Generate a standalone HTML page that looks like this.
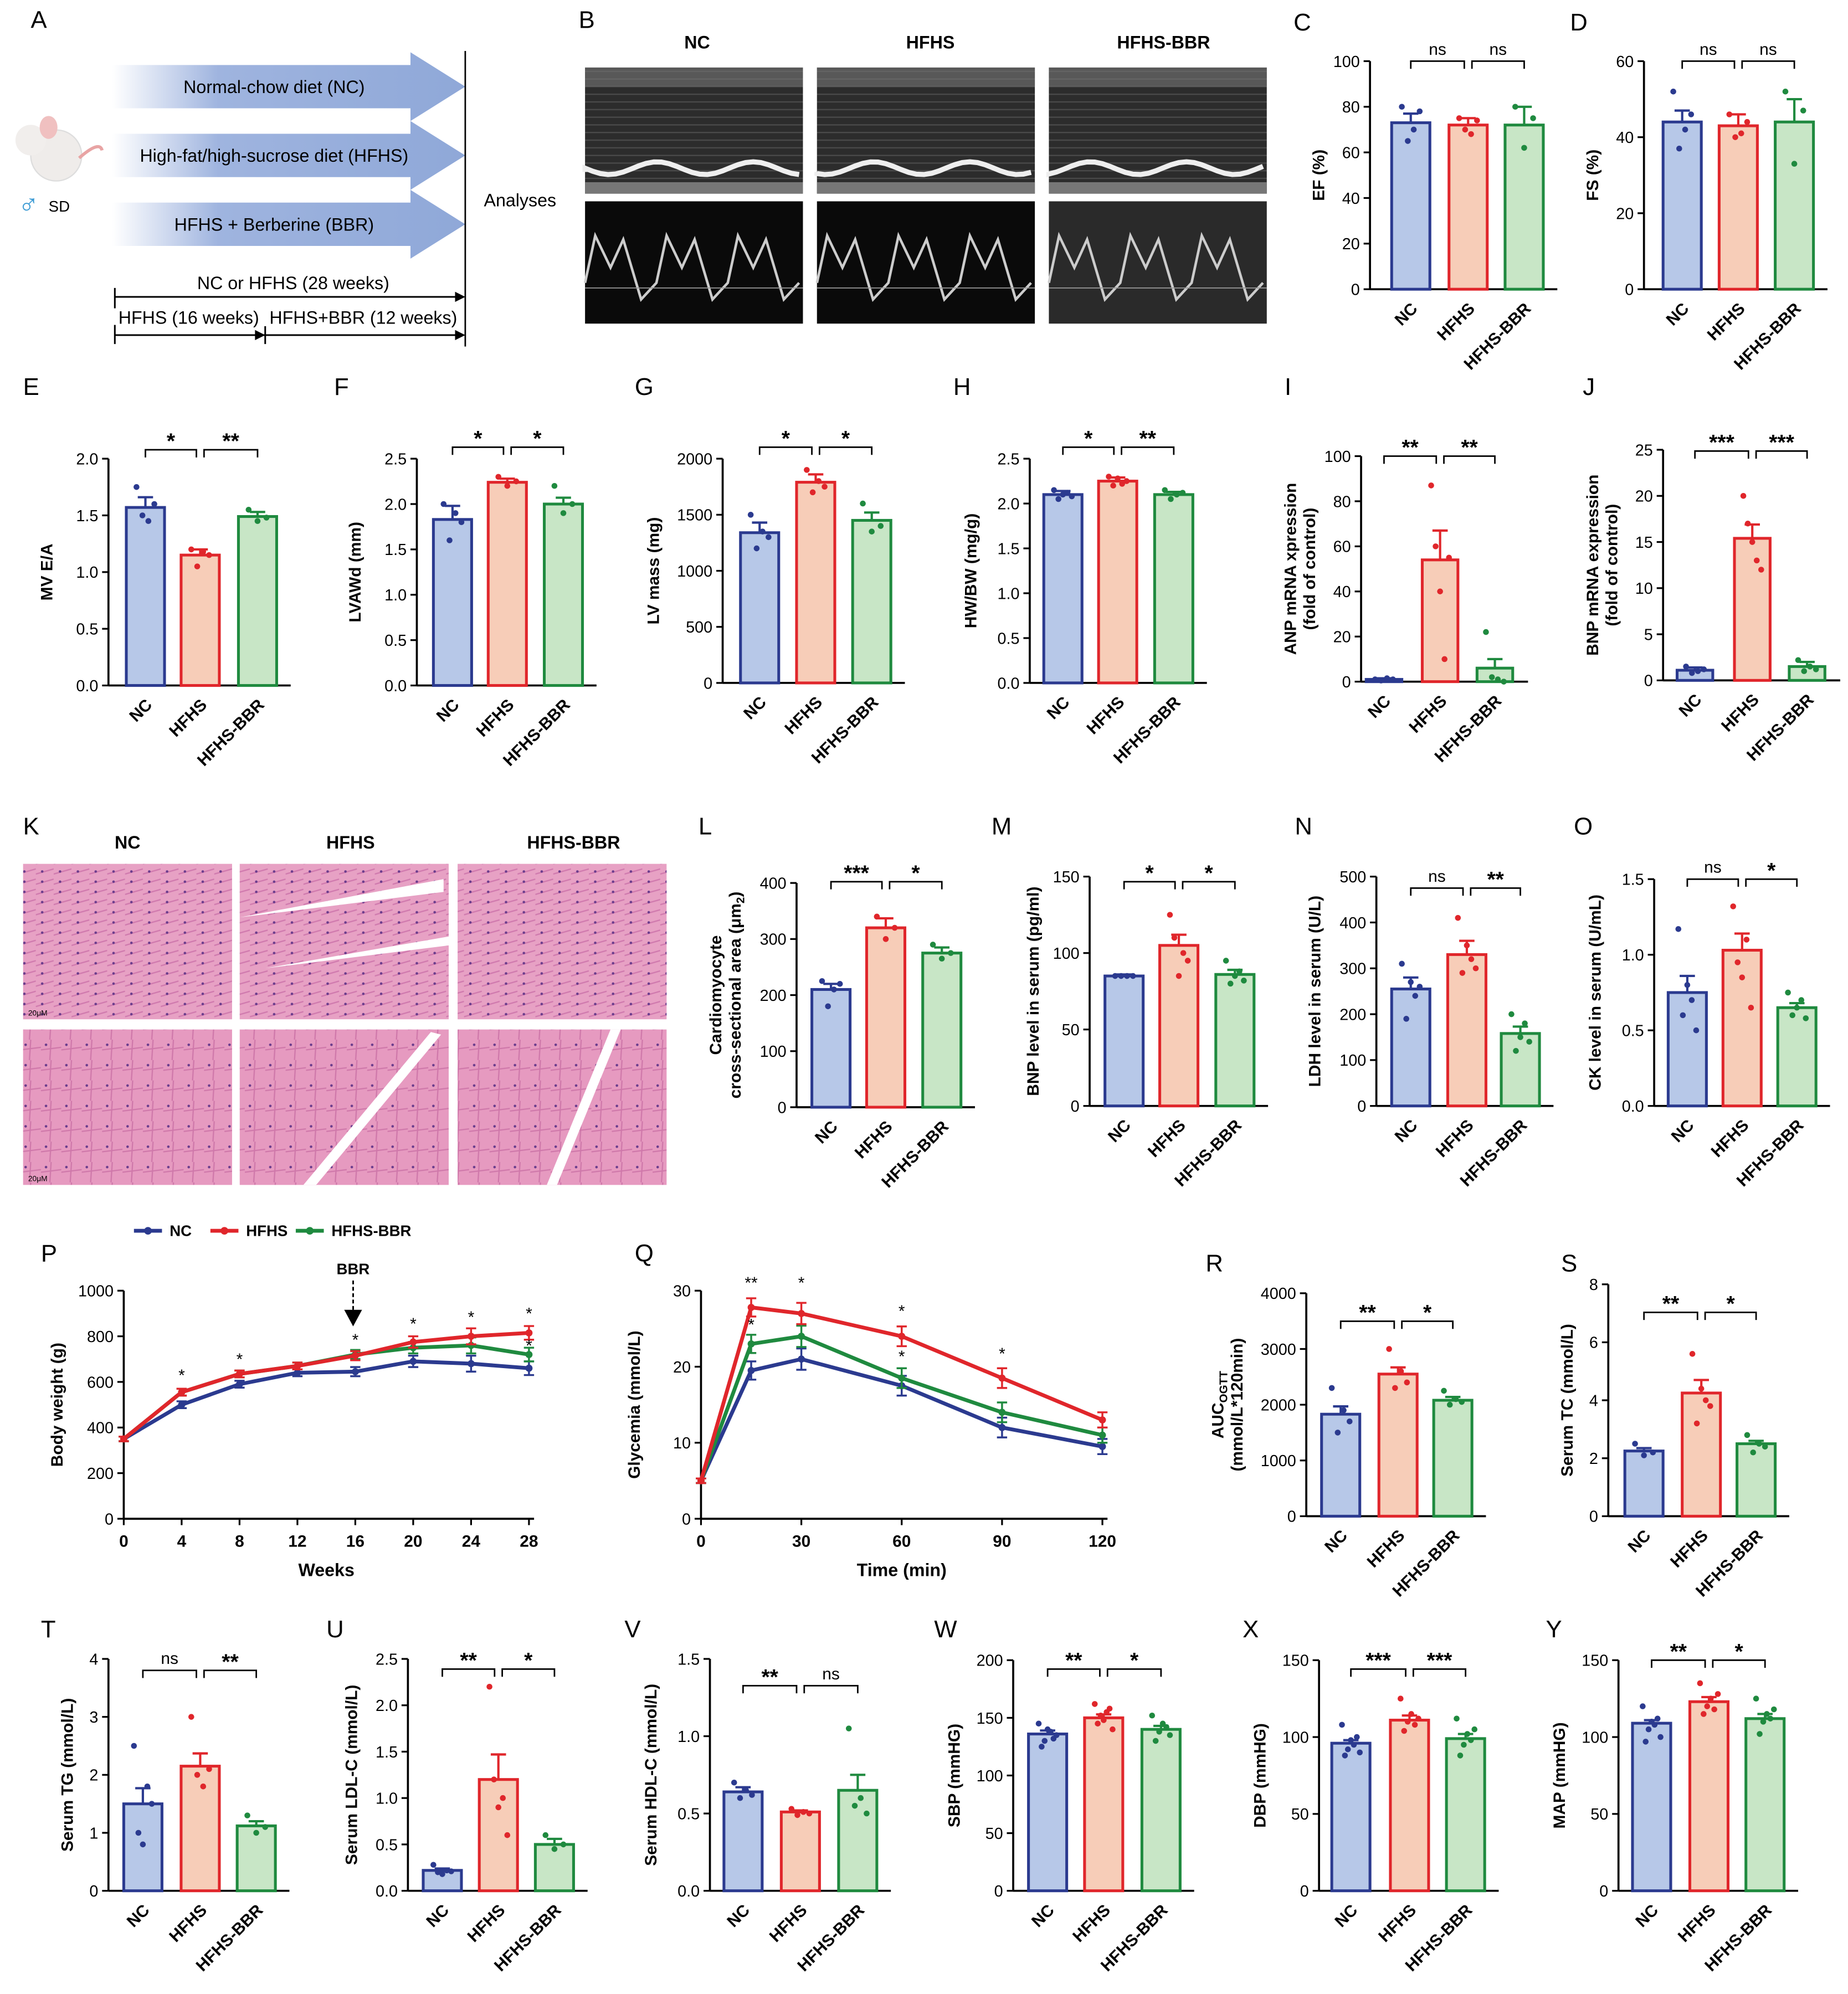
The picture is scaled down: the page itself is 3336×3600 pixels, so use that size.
<!DOCTYPE html>
<html><head><meta charset="utf-8"><style>
html,body{margin:0;padding:0;background:#fff}
svg{display:block}
text{font-family:"Liberation Sans",Arial,sans-serif}
</style></head><body>
<svg id="fig" xmlns="http://www.w3.org/2000/svg" width="3336" height="3600" viewBox="0 0 1450 1565">
<defs>
<linearGradient id="arrg" x1="0" x2="1"><stop offset="0" stop-color="#fff"/><stop offset="0.3" stop-color="#9fb4df"/><stop offset="1" stop-color="#8fa8d8"/></linearGradient>
<pattern id="histo" width="14" height="8" patternUnits="userSpaceOnUse"><rect width="14" height="8" fill="#e7a1c4"/><path d="M0 6 L14 2" stroke="#d07aae" stroke-width="1"/><circle cx="5" cy="4" r="1" fill="#6a3c8c"/></pattern>
<pattern id="histo2" width="16" height="16" patternUnits="userSpaceOnUse"><rect width="16" height="16" fill="#e69ac0"/><path d="M0 8 L16 6 M8 0 L7 16" stroke="#cf78aa" stroke-width="1"/><circle cx="4" cy="4" r="1" fill="#6a3c8c"/></pattern>
<pattern id="echo" width="6" height="6" patternUnits="userSpaceOnUse"><rect width="6" height="6" fill="#2c2c2c"/><path d="M0 2 H6" stroke="#4a4a4a" stroke-width="1"/></pattern>
</defs>
<g id="root"></g>
</svg>
<script>
const NS="http://www.w3.org/2000/svg";
const root=document.getElementById('root');
function el(tag,attrs,parent,txt){const e=document.createElementNS(NS,tag);for(const k in attrs)e.setAttribute(k,attrs[k]);if(txt!==undefined)e.textContent=txt;(parent||root).appendChild(e);return e;}
const groups=["NC","HFHS","HFHS-BBR"];
const FILL=["#b7c8e8","#f7cdb8","#c8e6c6"];
const STROKE=["#2b3a8f","#e0262b","#1f8a3f"];

const C_vals=[73,72,72], C_err=[4,3,8];
const D_vals=[44,43,44], D_err=[3,3,6];
const E_vals=[1.57,1.15,1.49], E_err=[0.09,0.05,0.04];
const F_vals=[1.83,2.24,2.0], F_err=[0.15,0.04,0.07];
const G_vals=[1340,1790,1450], G_err=[90,70,70];
const H_vals=[2.1,2.25,2.1], H_err=[0.04,0.04,0.03];
const I_vals=[1,54,6], I_err=[0.5,13,4];
const J_vals=[1.1,15.4,1.5], J_err=[0.3,1.5,0.5];
const L_vals=[210,320,275], L_err=[10,17,10];
const M_vals=[85,105,86], M_err=[1,7,3];
const N_vals=[255,330,158], N_err=[25,30,15];
const O_vals=[0.75,1.03,0.65], O_err=[0.11,0.11,0.03];
const R_vals=[1830,2550,2080], R_err=[140,120,60];
const S_vals=[2.25,4.25,2.5], S_err=[0.1,0.45,0.1];
const T_vals=[1.5,2.15,1.12], T_err=[0.27,0.22,0.08];
const U_vals=[0.22,1.2,0.5], U_err=[0.02,0.27,0.06];
const V_vals=[0.64,0.51,0.65], V_err=[0.03,0.01,0.1];
const W_vals=[136,150,140], W_err=[3,3,3];
const X_vals=[96,111,99], X_err=[2,3,3];
const Y_vals=[109,123,112], Y_err=[2,3,3];
const C_dots=[[80,65,70,78],[75,70,68,74],[80,62,75]];
const D_dots=[[52,37,42,46],[46,40,41,44],[52,33,47]];
const E_dots=[[1.75,1.5,1.45,1.6],[1.2,1.05,1.18,1.15],[1.55,1.45,1.48]];
const F_dots=[[2.0,1.6,1.9,1.8],[2.3,2.2,2.25],[2.2,1.9,2.0]];
const G_dots=[[1500,1200,1350,1300],[1900,1700,1800,1750],[1600,1350,1400]];
const H_dots=[[2.15,2.05,2.1,2.12,2.08],[2.3,2.2,2.28,2.22,2.25],[2.15,2.05,2.1,2.12]];
const I_dots=[[1,0.5,1.5,1],[87,60,40,10,55],[22,2,1,0]];
const J_dots=[[1.5,0.8,1,1.2],[20,17,15,13,12],[2.2,1,1.5,1.2]];
const L_dots=[[225,180,210,220],[340,300,320],[290,265,275]];
const M_dots=[[85,85,85,85],[125,110,85,100,95],[95,80,85,88,82]];
const N_dots=[[310,190,270,240,260],[410,290,350,320,300],[200,120,150,180,140]];
const O_dots=[[1.17,0.6,0.8,0.7,0.5],[1.32,0.95,0.85,1.1,0.65],[0.75,0.6,0.65,0.7,0.58]];
const R_dots=[[2300,1500,1900,1700],[3000,2300,2600,2400],[2250,2000,2100,2050]];
const S_dots=[[2.5,2.1,2.2],[5.6,3.2,4.4,4.0,3.8],[2.8,2.2,2.5,2.4]];
const T_dots=[[2.5,1.0,0.8,1.8,1.5],[3.0,2.0,1.8,2.1],[1.3,1.0,1.1]];
const U_dots=[[0.28,0.2,0.18,0.22,0.21],[2.2,1.2,0.9,1.0,0.6],[0.6,0.45,0.5]];
const V_dots=[[0.7,0.6,0.65,0.62],[0.53,0.49,0.51,0.5],[1.05,0.55,0.6,0.5]];
const W_dots=[[145,125,130,140,138,132,135],[162,145,152,148,155,158,140],[152,130,138,145,142,135]];
const X_dots=[[108,88,92,98,95,100,90],[125,104,110,115,108,112],[112,88,95,102,98,105]];
const Y_dots=[[120,97,105,110,108,112,100],[135,115,120,125,118,128],[125,102,110,115,112,118]];

const C_ticks=[0,20,40,60,80,100], D_ticks=[0,20,40,60], E_ticks=[0,0.5,1.0,1.5,2.0], F_ticks=[0,0.5,1.0,1.5,2.0,2.5];
const G_ticks=[0,500,1000,1500,2000], H_ticks=[0,0.5,1.0,1.5,2.0,2.5], I_ticks=[0,20,40,60,80,100], J_ticks=[0,5,10,15,20,25];
const L_ticks=[0,100,200,300,400], M_ticks=[0,50,100,150], N_ticks=[0,100,200,300,400,500], O_ticks=[0,0.5,1.0,1.5];
const R_ticks=[0,1000,2000,3000,4000], S_ticks=[0,2,4,6,8], T_ticks=[0,1,2,3,4], U_ticks=[0,0.5,1.0,1.5,2.0,2.5];
const V_ticks=[0,0.5,1.0,1.5], W_ticks=[0,50,100,150,200], X_ticks=[0,50,100,150], Y_ticks=[0,50,100,150];

function fmt(v,dec){return dec?v.toFixed(1):String(v);}

function barPanel(p){
  const g=el('g',{});
  
  
  const ymax=p.ticks[p.ticks.length-1];
  const ys=v=>p.bot-(v/ymax)*(p.bot-p.top);
  const right=p.bx[2]+26;
  el('line',{x1:p.ax,y1:p.top,x2:p.ax,y2:p.bot,stroke:'#000','stroke-width':1.6},g);
  el('line',{x1:p.ax,y1:p.bot,x2:right,y2:p.bot,stroke:'#000','stroke-width':1.6},g);
  p.ticks.forEach(t=>{const y=ys(t);
    el('line',{x1:p.ax-5,y1:y,x2:p.ax,y2:y,stroke:'#000','stroke-width':1.4},g);
    const tl=el('text',{x:p.ax-8,y:y+4.5,'font-size':12.5,'text-anchor':'end'},g,fmt(t,p.dec));
    
    
  });
  const bw=p.bw||30;
  p.vals.forEach((v,i)=>{
    const cx=p.bx[i], y=ys(v);
    const r=el('rect',{x:cx-bw/2,y:y,width:bw,height:p.bot-y,fill:FILL[i],stroke:STROKE[i],'stroke-width':2.2},g);
    
    
    const ye=ys(v+p.err[i]);
    el('line',{x1:cx,y1:y,x2:cx,y2:ye,stroke:STROKE[i],'stroke-width':1.8},g);
    el('line',{x1:cx-6,y1:ye,x2:cx+6,y2:ye,stroke:STROKE[i],'stroke-width':1.8},g);
    const d=p.dots[i], n=d.length;
    d.forEach((dv,j)=>{
      const off=n>1?(j-(n-1)/2)*(14/(n-1)):0;
      const c=el('circle',{cx:cx+off,cy:ys(dv),r:2.3,fill:STROKE[i]},g);
      
      
    });
    const xl=el('text',{x:cx+6,y:p.bot+16,'font-size':13,'font-weight':'bold','text-anchor':'end',transform:`rotate(-45 ${cx+6} ${p.bot+16})`},g,groups[i]);
    
    
  });
  const sy=p.sigY;
  [[0,1],[1,2]].forEach((pr,k)=>{
    const x1=p.bx[pr[0]]+(k==1?3:0), x2=p.bx[pr[1]]-(k==0?3:0);
    el('path',{d:`M${x1} ${sy+6} V${sy} H${x2} V${sy+6}`,fill:'none',stroke:'#000','stroke-width':1.2},g);
    const lab=p.sig[k];
    const st=el('text',{x:(x1+x2)/2,y:lab=='ns'?sy-5:sy-1,'font-size':lab=='ns'?13:17,'font-weight':lab=='ns'?'normal':'bold','text-anchor':'middle'},g,lab);
    
    
  });
  const mid=(p.top+p.bot)/2, lx=p.ax-(p.lx||40);
  const lines=p.ylab;
  lines.forEach((ln,k)=>{
    const xx=lx+(k-(lines.length-1))*15;
    const t=el('text',{x:xx,y:mid,'font-size':13,'font-weight':'bold','text-anchor':'middle',transform:`rotate(-90 ${xx} ${mid})`},g);
    
    
    if(typeof ln==='string')t.textContent=ln;
    else {t.appendChild(document.createTextNode(ln[0]));el('tspan',{'font-size':9,dy:3},t,ln[1]);el('tspan',{dy:-3},t,ln[2]);}
  });
}

const panels=[
 {id:'C',ax:1075,top:48,bot:227,ticks:C_ticks,vals:C_vals,err:C_err,dots:C_dots,bx:[1107,1152,1196],sig:['ns','ns'],sigY:48,ylab:['EF (%)'],lx:36},
 {id:'D',ax:1290,top:48,bot:227,ticks:D_ticks,vals:D_vals,err:D_err,dots:D_dots,bx:[1320,1364,1408],sig:['ns','ns'],sigY:48,ylab:['FS (%)'],lx:36},
 {id:'E',ax:85,top:360,bot:538,ticks:E_ticks,vals:E_vals,err:E_err,dots:E_dots,bx:[114,157,202],sig:['*','**'],sigY:353,ylab:['MV E/A'],dec:1,lx:44},
 {id:'F',ax:327,top:360,bot:538,ticks:F_ticks,vals:F_vals,err:F_err,dots:F_dots,bx:[355,398,442],sig:['*','*'],sigY:351,ylab:['LVAWd (mm)'],dec:1,lx:44},
 {id:'G',ax:567,top:360,bot:536,ticks:G_ticks,vals:G_vals,err:G_err,dots:G_dots,bx:[596,640,684],sig:['*','*'],sigY:351,ylab:['LV mass (mg)'],lx:50},
 {id:'H',ax:808,top:360,bot:536,ticks:H_ticks,vals:H_vals,err:H_err,dots:H_dots,bx:[834,877,921],sig:['*','**'],sigY:351,ylab:['HW/BW (mg/g)'],dec:1,lx:42},
 {id:'I',ax:1068,top:358,bot:535,ticks:I_ticks,vals:I_vals,err:I_err,dots:I_dots,bx:[1086,1130,1173],sig:['**','**'],sigY:358,ylab:['ANP mRNA xpression','(fold of control)'],bw:28,lx:36},
 {id:'J',ax:1305,top:353,bot:534,ticks:J_ticks,vals:J_vals,err:J_err,dots:J_dots,bx:[1330,1375,1418],sig:['***','***'],sigY:354,ylab:['BNP mRNA expression','(fold of control)'],bw:28,lx:36},
 {id:'L',ax:625,top:693,bot:869,ticks:L_ticks,vals:L_vals,err:L_err,dots:L_dots,bx:[652,695,739],sig:['***','*'],sigY:692,ylab:['Cardiomyocyte',['cross-sectional area (μm','2',')']],lx:44},
 {id:'M',ax:855,top:688,bot:868,ticks:M_ticks,vals:M_vals,err:M_err,dots:M_dots,bx:[882,925,969],sig:['*','*'],sigY:692,ylab:['BNP level in serum (pg/ml)'],lx:40},
 {id:'N',ax:1080,top:688,bot:868,ticks:N_ticks,vals:N_vals,err:N_err,dots:N_dots,bx:[1107,1151,1193],sig:['ns','**'],sigY:697,ylab:['LDH level in serum  (U/L)'],lx:44},
 {id:'O',ax:1298,top:690,bot:868,ticks:O_ticks,vals:O_vals,err:O_err,dots:O_dots,bx:[1324,1367,1410],sig:['ns','*'],sigY:690,ylab:['CK level in serum  (U/mL)'],dec:1,lx:42},
 {id:'R',ax:1025,top:1015,bot:1190,ticks:R_ticks,vals:R_vals,err:R_err,dots:R_dots,bx:[1052,1097,1140],sig:['**','*'],sigY:1037,ylab:[['AUC','OGTT',''],'(mmol/L*120min)'],lx:50},
 {id:'S',ax:1262,top:1008,bot:1190,ticks:S_ticks,vals:S_vals,err:S_err,dots:S_dots,bx:[1290,1335,1378],sig:['**','*'],sigY:1030,ylab:['Serum TC (mmol/L)'],lx:28},
 {id:'T',ax:85,top:1302,bot:1484,ticks:T_ticks,vals:T_vals,err:T_err,dots:T_dots,bx:[112,157,201],sig:['ns','**'],sigY:1311,ylab:['Serum TG (mmol/L)'],lx:28},
 {id:'U',ax:320,top:1302,bot:1484,ticks:U_ticks,vals:U_vals,err:U_err,dots:U_dots,bx:[347,391,435],sig:['**','*'],sigY:1310,ylab:['Serum LDL-C (mmol/L)'],dec:1,lx:40},
 {id:'V',ax:557,top:1302,bot:1484,ticks:V_ticks,vals:V_vals,err:V_err,dots:V_dots,bx:[583,628,673],sig:['**','ns'],sigY:1323,ylab:['Serum HDL-C (mmol/L)'],dec:1,lx:42},
 {id:'W',ax:795,top:1303,bot:1484,ticks:W_ticks,vals:W_vals,err:W_err,dots:W_dots,bx:[822,866,911],sig:['**','*'],sigY:1310,ylab:['SBP (mmHG)'],lx:42},
 {id:'X',ax:1035,top:1303,bot:1484,ticks:X_ticks,vals:X_vals,err:X_err,dots:X_dots,bx:[1060,1106,1150],sig:['***','***'],sigY:1310,ylab:['DBP (mmHG)'],lx:42},
 {id:'Y',ax:1270,top:1303,bot:1484,ticks:Y_ticks,vals:Y_vals,err:Y_err,dots:Y_dots,bx:[1296,1341,1385],sig:['**','*'],sigY:1303,ylab:['MAP (mmHG)'],lx:42},
];
panels.forEach(barPanel);

const P_weeks=[0,4,8,12,16,20,24,28];
const P_nc=[350,500,590,640,645,690,680,660];
const P_hfhs=[350,555,635,670,715,775,800,815];
const P_bbr=[350,555,635,670,720,750,760,720];
const P_err=[10,15,15,15,20,25,35,30];
const P_ticks=[0,200,400,600,800,1000];
const P_xticks=[0,4,8,12,16,20,24,28];
const Q_time=[0,15,30,60,90,120];
const Q_nc=[5,19.5,21,17.5,12,9.5];
const Q_hfhs=[5,27.8,27,24,18.5,13];
const Q_bbr=[5,23,24,18.5,14,11];
const Q_err=[0.3,1.2,1.4,1.3,1.3,1];
const Q_ticks=[0,10,20,30];
const Q_xticks=[0,30,60,90,120];

function lineChart(c){
  const g=el('g',{});
  
  
  const xs=v=>c.x0+(v-c.xmin)/(c.xmax-c.xmin)*(c.x1-c.x0);
  const ys=v=>c.bot-v/c.ymax*(c.bot-c.top);
  el('line',{x1:c.x0,y1:c.top,x2:c.x0,y2:c.bot,stroke:'#000','stroke-width':1.6},g);
  el('line',{x1:c.x0,y1:c.bot,x2:c.x1+4,y2:c.bot,stroke:'#000','stroke-width':1.6},g);
  c.yt.forEach(t=>{const y=ys(t);el('line',{x1:c.x0-5,y1:y,x2:c.x0,y2:y,stroke:'#000','stroke-width':1.4},g);
    const tl=el('text',{x:c.x0-8,y:y+4.5,'font-size':12.5,'text-anchor':'end'},g,t);
    
    });
  c.xt.forEach(t=>{const x=xs(t);el('line',{x1:x,y1:c.bot,x2:x,y2:c.bot+5,stroke:'#000','stroke-width':1.4},g);
    const tl=el('text',{x:x,y:c.bot+22,'font-size':13,'font-weight':'bold','text-anchor':'middle'},g,t);
    
    });
  const ttl=el('text',{x:(c.x0+c.x1)/2,y:c.bot+45,'font-size':14,'font-weight':'bold','text-anchor':'middle'},g,c.xlab);
  
  
  const mid=(c.top+c.bot)/2;
  const yt=el('text',{x:c.x0-48,y:mid,'font-size':13,'font-weight':'bold','text-anchor':'middle',transform:`rotate(-90 ${c.x0-48} ${mid})`},g,c.ylab);
  
  
  c.series.forEach(s=>{
    const pts=s.v.map((v,i)=>xs(c.x[i])+','+ys(v)).join(' ');
    const pl=el('polyline',{points:pts,fill:'none',stroke:s.col,'stroke-width':3},g);
    
    
    s.v.forEach((v,i)=>{
      const x=xs(c.x[i]),e=c.err[i];
      el('path',{d:`M${x-4} ${ys(v+e)} H${x+4} M${x} ${ys(v+e)} V${ys(v-e)} M${x-4} ${ys(v-e)} H${x+4}`,stroke:s.col,'stroke-width':1.5,fill:'none'},g);
      const pt=el('circle',{cx:x,cy:ys(v),r:2.8,fill:s.col},g);
      
      
    });
  });
  (c.stars||[]).forEach(s=>{const t=el('text',{x:xs(s[0]),y:ys(s[1]),'font-size':13,'text-anchor':'middle'},g,s[2]||'*');
    
    });
}
lineChart({id:'P',x0:97,x1:415,xmin:0,xmax:28,top:1013,bot:1192,ymax:1000,yt:P_ticks,xt:P_xticks,x:P_weeks,err:P_err,xlab:'Weeks',ylab:'Body weight (g)',
 series:[{name:'nc',v:P_nc,col:STROKE[0]},{name:'bbr',v:P_bbr,col:STROKE[2]},{name:'hfhs',v:P_hfhs,col:STROKE[1]}],
 stars:[[4,605],[8,675],[16,760],[20,830],[24,860],[28,875],[28,735]]});
lineChart({id:'Q',x0:550,x1:865,xmin:0,xmax:120,top:1013,bot:1192,ymax:30,yt:Q_ticks,xt:Q_xticks,x:Q_time,err:Q_err,xlab:'Time (min)',ylab:'Glycemia (mmol/L)',
 series:[{name:'nc',v:Q_nc,col:STROKE[0]},{name:'bbr',v:Q_bbr,col:STROKE[2]},{name:'hfhs',v:Q_hfhs,col:STROKE[1]}],
 stars:[[15,30.3,'**'],[15,24.8],[30,30.3],[60,26.6],[60,20.6],[90,21]]});
el('path',{d:'M277 1005 V1030',stroke:'#000','stroke-width':1.3,'stroke-dasharray':'3,2'});
el('path',{d:'M270 1028 L284 1028 L277 1041 Z',fill:'#000'});
el('text',{x:277,y:1000,'font-size':12,'font-weight':'bold','text-anchor':'middle'},root,'BBR');
const leg=el('g',{});


[[105,'NC'],[165,'HFHS'],[232,'HFHS-BBR']].forEach((l,i)=>{
  el('line',{x1:l[0],y1:966,x2:l[0]+22,y2:966,stroke:STROKE[i],'stroke-width':3},leg);
  el('circle',{cx:l[0]+11,cy:966,r:3,fill:STROKE[i]},leg);
  const t=el('text',{x:l[0]+28,y:970,'font-size':12,'font-weight':'bold'},leg,l[1]);
  
  
});

const A=el('g',{});


[[68,'Normal-chow diet (NC)'],[122,'High-fat/high-sucrose diet (HFHS)'],[176,'HFHS + Berberine (BBR)']].forEach(r=>{
  el('path',{d:`M88 ${r[0]-17} H322 V${r[0]-27} L365 ${r[0]} L322 ${r[0]+27} V${r[0]+17} H88 Z`,fill:'url(#arrg)'},A);
  el('text',{x:215,y:r[0]+5,'font-size':14,'text-anchor':'middle'},A,r[1]);
});
el('line',{x1:365,y1:40,x2:365,y2:272,stroke:'#000','stroke-width':1.2},A);
el('text',{x:408,y:162,'font-size':14,'text-anchor':'middle'},A,'Analyses');
el('text',{x:230,y:227,'font-size':14,'text-anchor':'middle'},A,'NC or HFHS (28 weeks)');
el('text',{x:148,y:254,'font-size':14,'text-anchor':'middle'},A,'HFHS (16 weeks)');
el('text',{x:285,y:254,'font-size':14,'text-anchor':'middle'},A,'HFHS+BBR (12 weeks)');
el('path',{d:'M90 226 V242 M90 233 H362 M90 255 V270 M90 263 H362 M208 256 V270',stroke:'#000','stroke-width':1.3,fill:'none'},A);
el('path',{d:'M357 229 L365 233 L357 237Z M357 259 L365 263 L357 267Z M200 259 L208 263 L200 267Z',fill:'#000'},A);
el('ellipse',{cx:44,cy:122,rx:20,ry:20,fill:'#efecea',stroke:'#ddd'},A);
el('circle',{cx:24,cy:110,r:12,fill:'#f1eeec'},A);
el('ellipse',{cx:38,cy:100,rx:7,ry:9,fill:'#f0c0c0'},A);
el('path',{d:'M62 124 Q78 110 80 118',stroke:'#e8a4a4','stroke-width':2.5,fill:'none'},A);
el('text',{x:14,y:168,'font-size':22,fill:'#3a9ad4'},A,'♂');
el('text',{x:38,y:166,'font-size':12},A,'SD');

const B=el('g',{});


[[459,'NC',547],[641,'HFHS',730],[823,'HFHS-BBR',913]].forEach((c,i)=>{
  el('text',{x:c[2],y:38,'font-size':14,'font-weight':'bold','text-anchor':'middle'},B,c[1]);
  el('rect',{x:c[0],y:53,width:171,height:99,fill:'url(#echo)'},B);
  el('rect',{x:c[0],y:53,width:171,height:15,fill:'#777',opacity:0.6},B);
  let d='M'+c[0]+' 135';for(let k=0;k<=171;k+=6){d+=` L${c[0]+k} ${132+5*Math.sin(k/12+i)}`;}
  el('path',{d:d,stroke:'#eee','stroke-width':4,fill:'none'},B);
  el('rect',{x:c[0],y:143,width:171,height:9,fill:'#777'},B);
  el('rect',{x:c[0],y:158,width:171,height:96,fill:i==2?'#2a2a2a':'#0a0a0a'},B);
  let w='M'+c[0]+' 222';for(let k=0;k+56<=171;k+=56){w+=` L${c[0]+k+8} 185 L${c[0]+k+20} 210 L${c[0]+k+30} 188 L${c[0]+k+44} 235 L${c[0]+k+56} 222`;}
  el('path',{d:w,stroke:'#ccc','stroke-width':2,fill:'none'},B);
  el('line',{x1:c[0],y1:226,x2:c[0]+171,y2:226,stroke:'#999','stroke-width':0.8},B);
});

const K=el('g',{});


[[18,'NC',100],[188,'HFHS',275],[359,'HFHS-BBR',450]].forEach((c,i)=>{
  el('text',{x:c[2],y:666,'font-size':14,'font-weight':'bold','text-anchor':'middle'},K,c[1]);
  el('rect',{x:c[0],y:678,width:164,height:122,fill:'url(#histo)'},K);
  el('rect',{x:c[0],y:808,width:164,height:122,fill:'url(#histo2)'},K);
  if(i==1){el('path',{d:`M${c[0]} 720 L${c[0]+160} 690 L${c[0]+160} 700 Z M${c[0]+20} 760 L${c[0]+164} 735 L${c[0]+164} 742Z M${c[0]+50} 930 L${c[0]+150} 810 L${c[0]+158} 812 L${c[0]+60} 930Z`,fill:'#fff'},K);}
  if(i==2){el('path',{d:`M${c[0]+120} 808 L${c[0]+70} 930 L${c[0]+78} 930 L${c[0]+128} 808Z`,fill:'#fff'},K);}
});
el('text',{x:22,y:797,'font-size':6},K,'20μM');
el('text',{x:22,y:927,'font-size':6},K,'20μM');

const letters=[['A',24,22],['B',454,22],['C',1015,24],['D',1232,24],['E',18,310],['F',262,310],['G',498,310],['H',748,310],['I',1008,310],['J',1242,310],
['K',18,655],['L',548,655],['M',778,655],['N',1016,655],['O',1235,655],['P',32,990],['Q',498,990],['R',946,998],['S',1225,998],
['T',32,1285],['U',256,1285],['V',490,1285],['W',733,1285],['X',975,1285],['Y',1213,1285]];
letters.forEach(l=>{const t=el('text',{x:l[1],y:l[2],'font-size':19},root,l[0]);
  
  });
</script>
</body></html>
